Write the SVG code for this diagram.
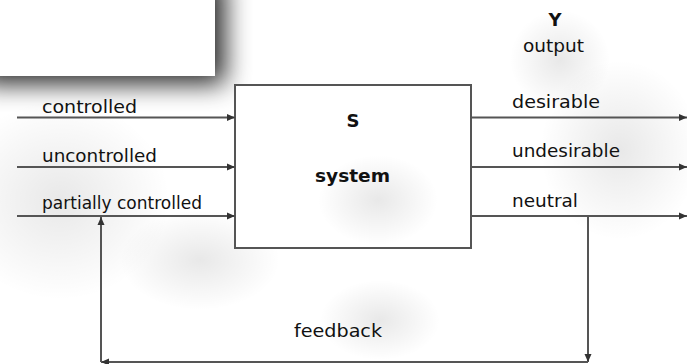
<svg xmlns="http://www.w3.org/2000/svg" width="687" height="364" viewBox="0 0 687 364">
  <defs>
    <style>
      .lbl { font-family: "DejaVu Sans", "Liberation Sans", sans-serif; font-size: 18px; fill: #111; }
      .bold { font-weight: bold; }
      .wire { stroke: #555; stroke-width: 2; fill: none; }
      .box { fill: #fff; stroke: #555; stroke-width: 2; }
    </style>
    <marker id="arr" viewBox="0 0 8 8" refX="8" refY="4" markerWidth="8" markerHeight="8" markerUnits="userSpaceOnUse" orient="auto">
      <path d="M0,0.5 L8,4 L0,7.5 z" fill="#333"/>
    </marker>
    <filter id="shadow" x="-30%" y="-50%" width="170%" height="230%">
      <feGaussianBlur in="SourceAlpha" stdDeviation="13"/>
      <feOffset dx="10" dy="8" result="b"/>
      <feComponentTransfer><feFuncA type="linear" slope="0.85"/></feComponentTransfer>
      <feMerge><feMergeNode/><feMergeNode in="SourceGraphic"/></feMerge>
    </filter>
    <radialGradient id="smudge">
      <stop offset="0" stop-color="#000" stop-opacity="0.09"/>
      <stop offset="1" stop-color="#000" stop-opacity="0"/>
    </radialGradient>
  </defs>

  <rect width="687" height="364" fill="#fff"/>

  <g id="background">
    <ellipse cx="60" cy="200" rx="110" ry="100" fill="url(#smudge)"/>
    <ellipse cx="200" cy="260" rx="80" ry="50" fill="url(#smudge)"/>
    <ellipse cx="620" cy="150" rx="80" ry="90" fill="url(#smudge)"/>
    <ellipse cx="560" cy="60" rx="50" ry="50" fill="url(#smudge)"/>
    <ellipse cx="380" cy="320" rx="60" ry="40" fill="url(#smudge)"/>
  </g>

  <g id="overlay-card">
    <rect x="-30" y="-30" width="245" height="106" fill="#fff" filter="url(#shadow)"/>
  </g>

  <g id="system">
    <rect class="box" x="235" y="85" width="236" height="163"/>
    <ellipse cx="378" cy="200" rx="60" ry="45" fill="url(#smudge)"/>
    <text class="lbl bold" x="353" y="127" text-anchor="middle" font-size="21">S</text>
    <text class="lbl bold" x="352.5" y="182" text-anchor="middle" font-size="21" textLength="75" lengthAdjust="spacingAndGlyphs">system</text>
  </g>

  <g id="connectors">
    <line class="wire" x1="17" y1="117.5" x2="235" y2="117.5" marker-end="url(#arr)"/>
    <line class="wire" x1="17" y1="167" x2="235" y2="167" marker-end="url(#arr)"/>
    <line class="wire" x1="17" y1="216" x2="235" y2="216" marker-end="url(#arr)"/>
    <line class="wire" x1="471" y1="117.5" x2="687" y2="117.5" marker-end="url(#arr)"/>
    <line class="wire" x1="471" y1="167" x2="687" y2="167" marker-end="url(#arr)"/>
    <line class="wire" x1="471" y1="216" x2="687" y2="216" marker-end="url(#arr)"/>
    <line class="wire" x1="588" y1="216" x2="588" y2="362" marker-end="url(#arr)"/>
    <line class="wire" x1="588" y1="362" x2="101" y2="362" marker-end="url(#arr)"/>
    <line class="wire" x1="101" y1="362" x2="101" y2="217" marker-end="url(#arr)"/>
  </g>

  <g id="inputs">
    <text class="lbl" x="42" y="113" font-size="19" textLength="95" lengthAdjust="spacingAndGlyphs">controlled</text>
    <text class="lbl" x="42" y="162" font-size="19" textLength="115" lengthAdjust="spacingAndGlyphs">uncontrolled</text>
    <text class="lbl" x="42" y="209" font-size="17" textLength="160" lengthAdjust="spacingAndGlyphs">partially controlled</text>
  </g>

  <g id="outputs">
    <text class="lbl bold" x="555" y="26" text-anchor="middle">Y</text>
    <text class="lbl" x="553.5" y="52" text-anchor="middle" font-size="18" textLength="61" lengthAdjust="spacingAndGlyphs">output</text>
    <text class="lbl" x="512" y="108" font-size="19" textLength="88" lengthAdjust="spacingAndGlyphs">desirable</text>
    <text class="lbl" x="512" y="157" font-size="19" textLength="108" lengthAdjust="spacingAndGlyphs">undesirable</text>
    <text class="lbl" x="512" y="207" font-size="19" textLength="66" lengthAdjust="spacingAndGlyphs">neutral</text>
  </g>

  <g id="feedback">
    <text class="lbl" x="294" y="337" font-size="19" textLength="88" lengthAdjust="spacingAndGlyphs">feedback</text>
  </g>
</svg>
